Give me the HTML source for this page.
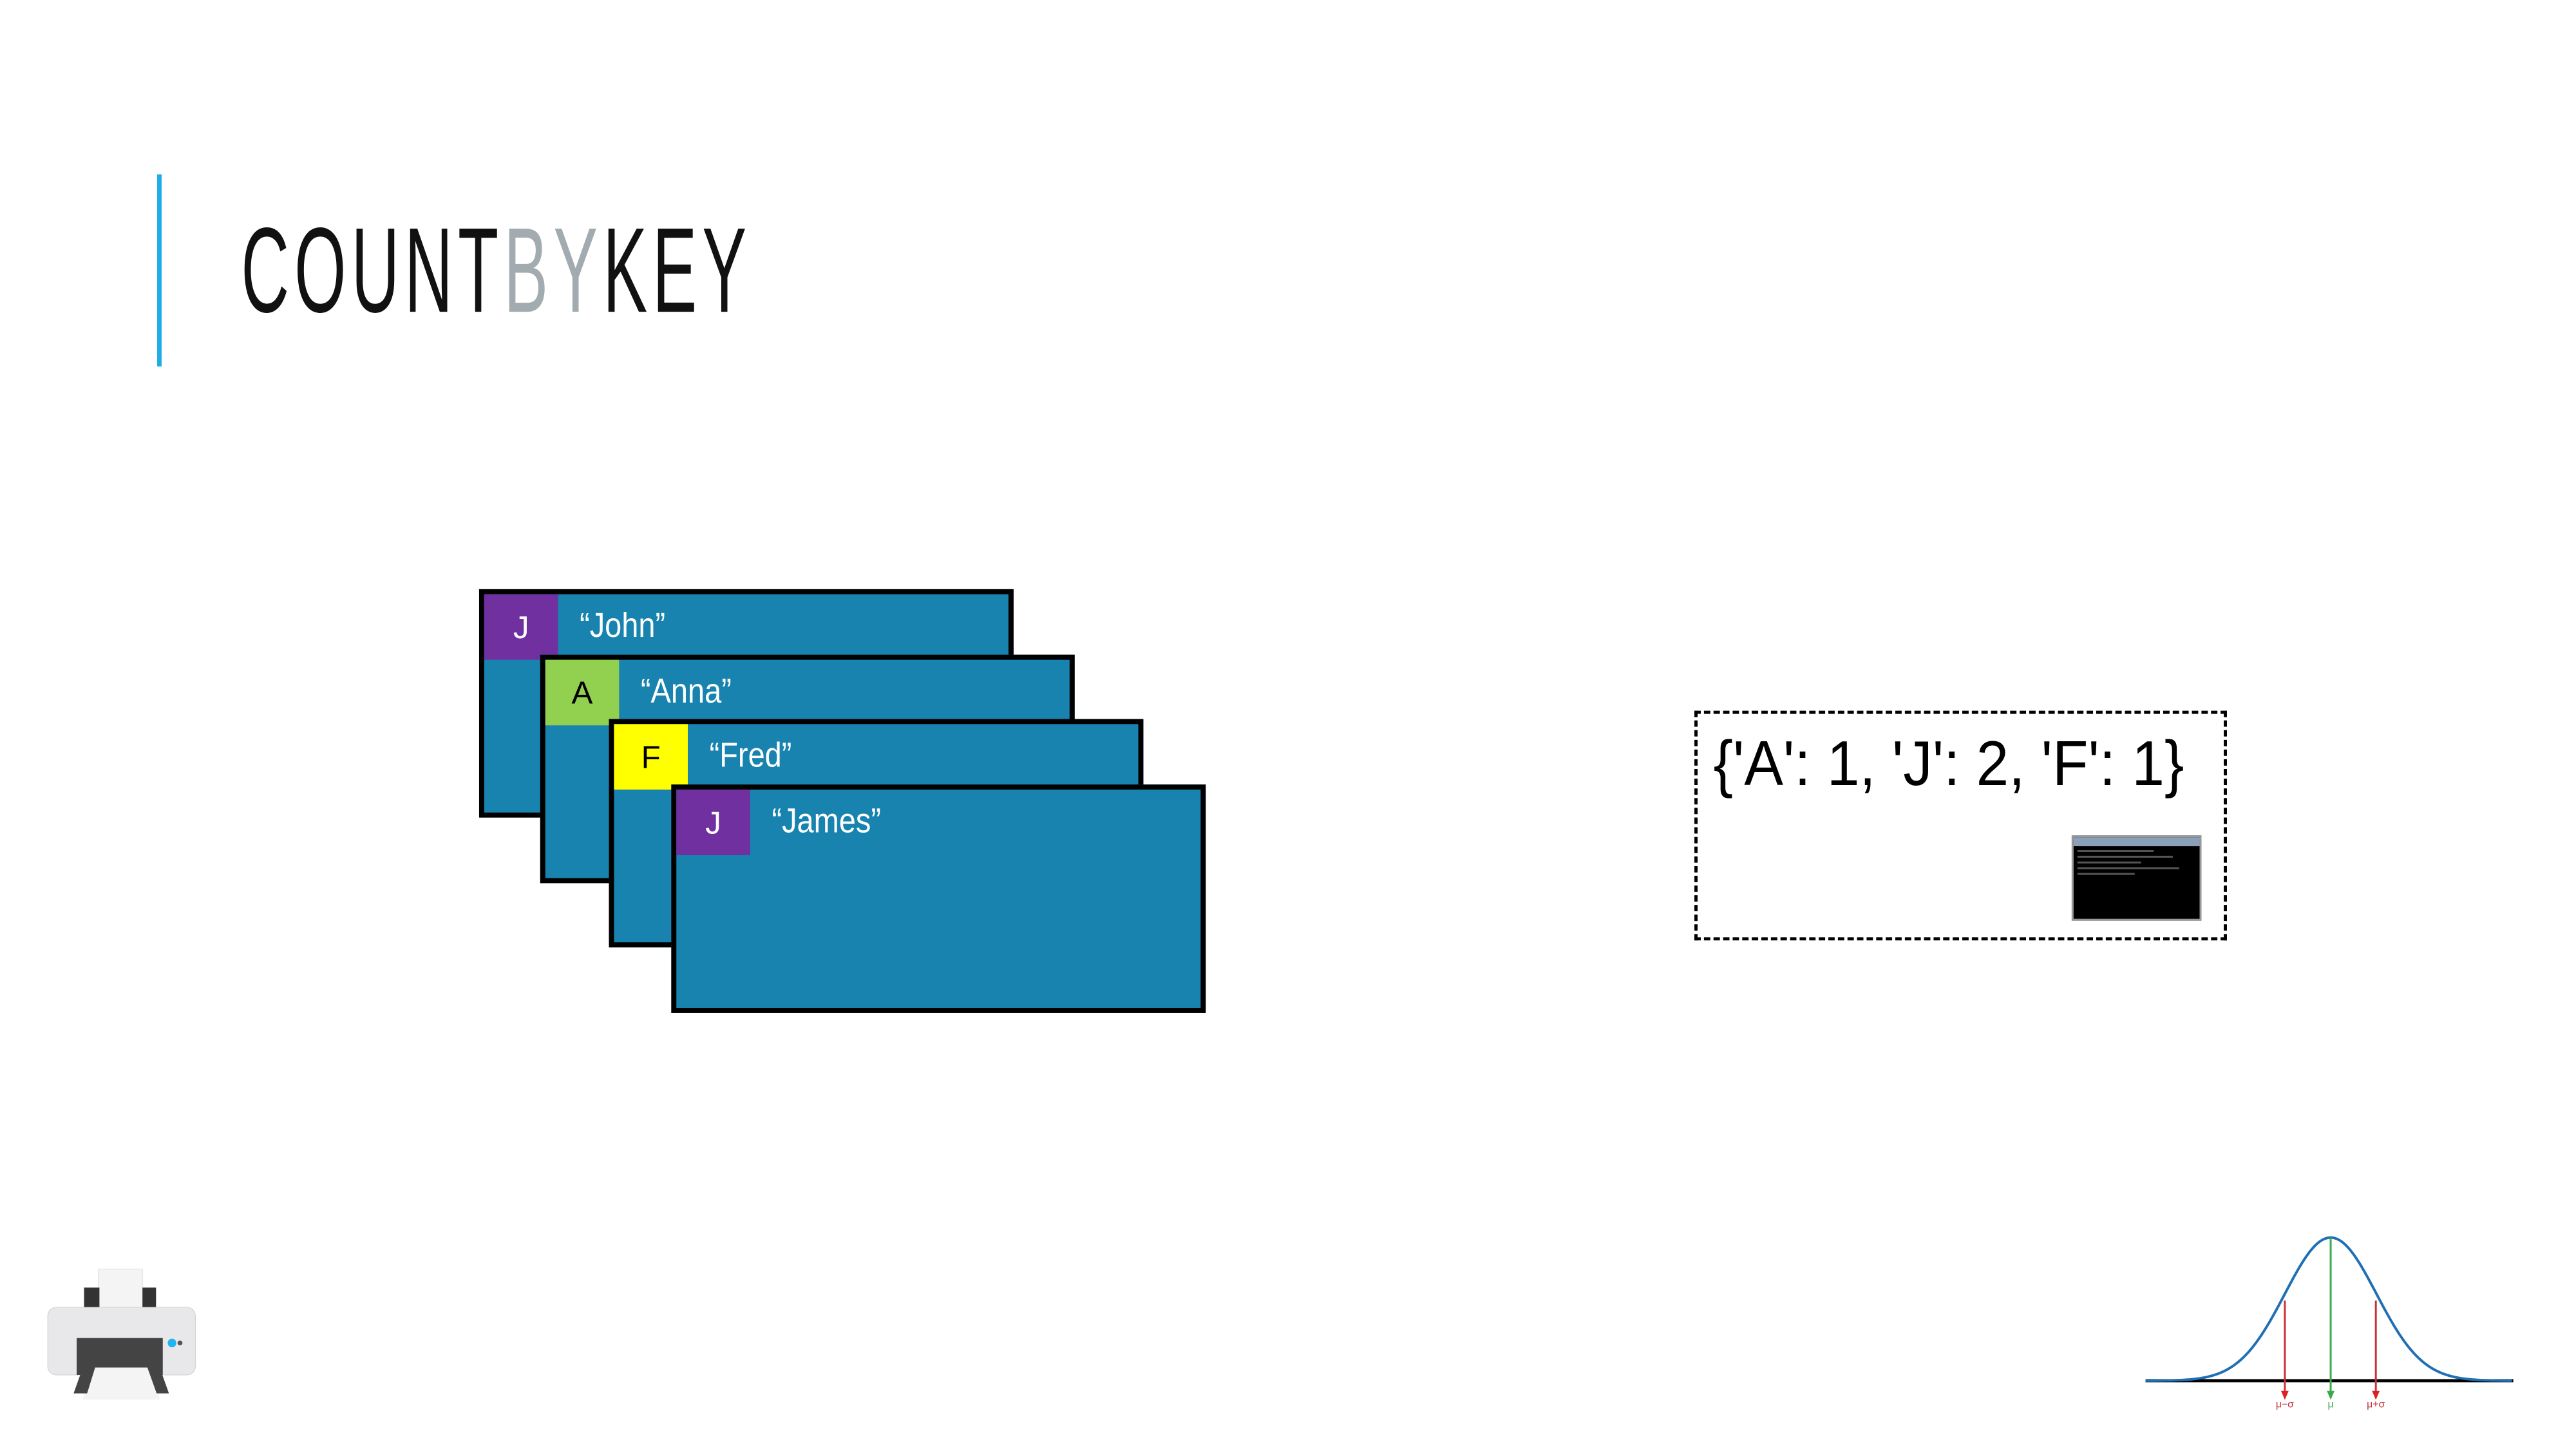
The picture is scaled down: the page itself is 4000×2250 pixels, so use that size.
<!DOCTYPE html>
<html><head><meta charset="utf-8"><style>
html,body{margin:0;padding:0;background:#fff;}
#slide{position:relative;width:4000px;height:2250px;overflow:hidden;background:#fff;font-family:"Liberation Sans",sans-serif;}
#inner{position:absolute;left:0;top:0;width:4000px;height:2250px;transform:scale(0.988);transform-origin:0 0;}
.card{position:absolute;width:824px;height:343px;background:#1783AE;border:8px solid #000;}
.key{position:absolute;left:0;top:0;width:116px;height:103px;font-size:50px;display:flex;align-items:center;justify-content:center;font-family:"Liberation Sans Narrow","Liberation Sans",sans-serif;}
.name{position:absolute;left:150px;top:18px;font-size:54px;color:#fff;font-family:"Liberation Sans Narrow","Liberation Sans",sans-serif;transform:scaleX(0.88);transform-origin:left top;}
</style></head><body>
<div id="slide"><div id="inner">
<div style="position:absolute;left:247px;top:274px;width:7px;height:302px;background:#1EACE4"></div>
<div style="position:absolute;left:379px;top:330px;font-size:190px;line-height:190px;letter-spacing:15px;color:#111;font-family:'Liberation Sans Narrow','Liberation Sans',sans-serif;transform:scaleX(0.55);transform-origin:left top;white-space:nowrap">COUNT<span style="color:#A2ABB0">BY</span>KEY</div>

<div class="card" style="left:753px;top:926px"><div class="key" style="background:#7030A0;color:#fff">J</div><div class="name">“John”</div></div>
<div class="card" style="left:849px;top:1029px"><div class="key" style="background:#92D050;color:#000">A</div><div class="name">“Anna”</div></div>
<div class="card" style="left:957px;top:1130px"><div class="key" style="background:#FFFF00;color:#000">F</div><div class="name">“Fred”</div></div>
<div class="card" style="left:1055px;top:1233px"><div class="key" style="background:#7030A0;color:#fff">J</div><div class="name">“James”</div></div>

<div style="position:absolute;left:2663px;top:1117px;width:827px;height:351px;border:5px dashed #000"></div>
<div style="position:absolute;left:2693px;top:1140px;font-size:100px;line-height:120px;color:#000;font-family:'Liberation Sans Narrow','Liberation Sans',sans-serif;white-space:nowrap;transform:scaleX(0.92);transform-origin:left top">{'A': 1, 'J': 2, 'F': 1}</div>
<div style="position:absolute;left:3256px;top:1313px;width:204px;height:134px;background:#000;border:3px solid #999;box-sizing:border-box">
 <div style="height:14px;background:#8aa0b8"></div>
 <div style="margin:6px;height:3px;width:120px;background:#555"></div><div style="margin:6px;height:3px;width:150px;background:#555"></div><div style="margin:6px;height:3px;width:100px;background:#555"></div><div style="margin:6px;height:3px;width:160px;background:#555"></div><div style="margin:6px;height:3px;width:90px;background:#555"></div>
</div>

<svg style="position:absolute;left:0;top:0" width="4000" height="2250">
 <line x1="3372" y1="2170" x2="3950" y2="2170" stroke="#000" stroke-width="5"/>
 <path id="bell" fill="none" stroke="#1F6FB5" stroke-width="4"/>
 <line x1="3591" y1="2044" x2="3591" y2="2195" stroke="#C8303A" stroke-width="3"/>
 <line x1="3663" y1="1945" x2="3663" y2="2195" stroke="#3BAA4A" stroke-width="3"/>
 <line x1="3734" y1="2044" x2="3734" y2="2195" stroke="#C8303A" stroke-width="3"/>
 <polygon points="3585,2186 3597,2186 3591,2200" fill="#E02020"/>
 <polygon points="3657,2186 3669,2186 3663,2200" fill="#3BAA4A"/>
 <polygon points="3728,2186 3740,2186 3734,2200" fill="#E02020"/>
 <text x="3591" y="2212" font-size="16" fill="#C8303A" text-anchor="middle" font-family="Liberation Sans">μ−σ</text>
 <text x="3663" y="2212" font-size="16" fill="#3BAA4A" text-anchor="middle" font-family="Liberation Sans">μ</text>
 <text x="3734" y="2212" font-size="16" fill="#C8303A" text-anchor="middle" font-family="Liberation Sans">μ+σ</text>
</svg>

<svg style="position:absolute;left:48px;top:1975px" width="290" height="252" viewBox="0 0 300 260">
 <rect x="110" y="20" width="72" height="80" fill="#f4f4f4" stroke="#ddd"/>
 <rect x="87" y="50" width="25" height="50" fill="#333"/><rect x="182" y="50" width="22" height="50" fill="#333"/>
 <rect x="28" y="82" width="240" height="110" rx="14" fill="#e8e8ea" stroke="#ccc"/>
 <rect x="75" y="132" width="140" height="60" fill="#444"/>
 <circle cx="230" cy="140" r="7" fill="#1EB5F0"/><circle cx="243" cy="140" r="4" fill="#555"/>
 <polygon points="95,180 200,180 210,232 85,232" fill="#f4f4f4"/>
 <polygon points="85,180 105,180 92,222 70,222" fill="#444"/><polygon points="190,180 210,180 225,222 205,222" fill="#444"/>
</svg>
</div></div>
<script>
const mu=3663, sigma=72, base=2170, peak=1945;
let d='';
for(let x=3372;x<=3950;x+=3){const y=base-(base-peak)*Math.exp(-((x-mu)**2)/(2*sigma*sigma));d+=(d?'L':'M')+x+','+y.toFixed(1);}
document.getElementById('bell').setAttribute('d',d);
</script>
</body></html>
